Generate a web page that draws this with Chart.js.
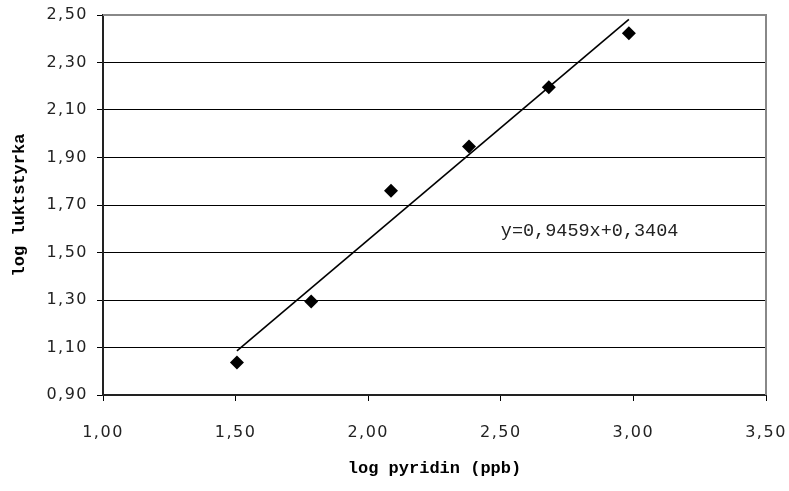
<!DOCTYPE html>
<html>
<head>
<meta charset="utf-8">
<script src="https://cdn.jsdelivr.net/npm/chart.js@4"></script>
<style>
  body { margin: 0; background: #fff; }
  canvas { display: block; }
</style>
</head>
<body>
<canvas id="wykres" width="789" height="491"></canvas>
<script>
// dane
const logPyridin = [1.505, 1.785, 2.086, 2.380, 2.681, 2.983];
const logLuktstyrka = [1.037, 1.294, 1.760, 1.946, 2.196, 2.423];
const trendX = [1.505, 2.983];
const trendY = [1.086, 2.482];
const xTicks = [1.00, 1.50, 2.00, 2.50, 3.00, 3.50];
const yTicks = [0.90, 1.10, 1.30, 1.50, 1.70, 1.90, 2.10, 2.30, 2.50];
const rownanie = "y=0,9459x+0,3404";
const rownaniePoz = [2.50, 1.59];

const przecinek = v => Number(v).toFixed(2).replace(".", ",");

const punkty = logPyridin.map((x, i) => ({ x: x, y: logLuktstyrka[i] }));
const linia = trendX.map((x, i) => ({ x: x, y: trendY[i] }));

const dodatki = {
  id: "dodatki",
  beforeDraw(chart) {
    chart.ctx.letterSpacing = "0px";
  },
  afterDatasetsDraw(chart) {
    // odstep liter dla etykiet osi (rysowane pozniej, z=1)
    chart.ctx.letterSpacing = "1.5px";
  },
  afterDraw(chart) {
    const ctx = chart.ctx;
    const a = chart.chartArea;
    ctx.save();
    ctx.letterSpacing = "0px";
    // szara ramka u gory i z prawej
    ctx.strokeStyle = "#888888";
    ctx.lineWidth = 2;
    ctx.beginPath();
    ctx.moveTo(a.left, a.top);
    ctx.lineTo(a.right, a.top);
    ctx.lineTo(a.right, a.bottom);
    ctx.stroke();
    // rownanie trendu
    const px = chart.scales.x.getPixelForValue(rownaniePoz[0]);
    const py = chart.scales.y.getPixelForValue(rownaniePoz[1]);
    ctx.fillStyle = "#222";
    ctx.font = "18.5px 'Liberation Mono'";
    ctx.textAlign = "left";
    ctx.textBaseline = "middle";
    ctx.fillText(rownanie, px, py);
    ctx.restore();
  }
};

// bez dodatkowych marginesow od etykiet - ramke ustawia layout.padding
const bezMarginesow = s => {
  s.paddingLeft = 0;
  s.paddingRight = 0;
  s.paddingTop = 0;
  s.paddingBottom = 0;
};

new Chart(document.getElementById("wykres"), {
  type: "scatter",
  data: {
    datasets: [
      {
        label: "pomiary",
        data: punkty,
        pointStyle: "rectRot",
        pointRadius: 7,
        pointHoverRadius: 7,
        backgroundColor: "#000",
        borderColor: "#000",
        borderWidth: 0,
        order: 1
      },
      {
        label: "trend",
        type: "line",
        data: linia,
        borderColor: "#000",
        borderWidth: 1.6,
        pointRadius: 0,
        fill: false,
        order: 2
      }
    ]
  },
  options: {
    responsive: false,
    animation: false,
    events: [],
    layout: { padding: { top: 15, right: 23, left: 0, bottom: 0 } },
    plugins: {
      legend: { display: false },
      tooltip: { enabled: false }
    },
    scales: {
      x: {
        type: "linear",
        min: 1.0,
        max: 3.5,
        afterFit(s) { s.height = 96; bezMarginesow(s); },
        afterBuildTicks(s) { s.ticks = xTicks.map(v => ({ value: v })); },
        grid: { drawOnChartArea: false, tickLength: 6, color: "#000", tickColor: "#000" },
        border: { color: "#222", width: 2 },
        ticks: {
          z: 1,
          padding: 22,
          color: "#222",
          font: { family: "DejaVu Sans", size: 16 },
          callback: przecinek
        },
        title: {
          display: true,
          text: "log pyridin (ppb)",
          color: "#000",
          font: { family: "Liberation Mono", size: 17, weight: "bold" },
          padding: { top: 4, bottom: 12 }
        }
      },
      y: {
        type: "linear",
        min: 0.9,
        max: 2.5,
        afterFit(s) { s.width = 103; bezMarginesow(s); },
        afterBuildTicks(s) { s.ticks = yTicks.map(v => ({ value: v })); },
        grid: { drawOnChartArea: true, tickLength: 6, color: "#000", tickColor: "#000", lineWidth: 1 },
        border: { color: "#222", width: 2 },
        ticks: {
          z: 1,
          padding: 9,
          color: "#222",
          font: { family: "DejaVu Sans", size: 16 },
          callback: przecinek
        },
        title: {
          display: true,
          text: "log luktstyrka",
          color: "#000",
          font: { family: "Liberation Mono", size: 17, weight: "bold" },
          padding: { top: 10, bottom: 4 }
        }
      }
    }
  },
  plugins: [dodatki]
});
</script>
</body>
</html>
